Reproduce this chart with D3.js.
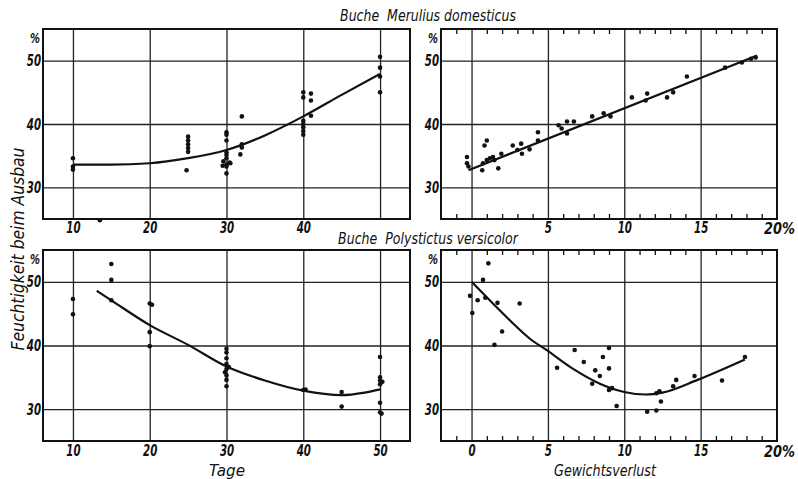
<!DOCTYPE html>
<html>
<head>
<meta charset="utf-8">
<script src="https://cdn.jsdelivr.net/npm/d3@7"></script>
<style>
  body { margin: 0; background: #fff; }
  text { font-family: "DejaVu Sans", sans-serif; font-style: italic; fill: #111; }
</style>
</head>
<body>
<div id="chart"></div>
<script>
// Chart size
const width = 798;
const height = 479;
const fontFam = "DejaVu Sans, sans-serif";

// --- data: Buche Merulius domesticus, Feuchtigkeit vs Tage ---
const merTagePoints = [
  [10, 34.6], [10, 33.3], [10, 32.8], [13.5, 24.8],
  [25, 38.0], [25, 37.4], [25, 36.8], [25, 36.2], [25, 35.6], [24.8, 32.7],
  [30, 38.7], [30, 38.3], [30, 37.4], [30, 35.5], [30, 35.1], [30, 34.6],
  [29.6, 34.1], [30.4, 33.9], [30, 33.6], [29.5, 33.4], [30.5, 33.8], [30, 33.3], [30, 32.2],
  [32, 41.2], [32, 36.8], [32, 36.3], [31.8, 35.2],
  [40, 45.0], [40, 44.2], [40, 40.5], [40, 40.0], [40, 39.5], [40, 38.9], [40, 38.3],
  [41, 44.8], [41, 43.7], [41, 41.3],
  [50, 50.6], [50, 48.9], [50, 47.5], [50, 45.0]
];
const merTageCurve = [
  [10, 33.6], [15, 33.6], [20, 33.8], [25, 34.6], [30, 35.9],
  [35, 38.2], [40, 41.2], [45, 44.6], [50, 47.9]
];

// --- data: Buche Merulius domesticus, Feuchtigkeit vs Gewichtsverlust ---
const merVerlustPoints = [
  [-0.3, 34.8], [-0.3, 33.8], [-0.2, 33.3], [1.0, 37.4], [0.85, 36.6],
  [0.75, 33.8], [0.7, 32.7], [1.0, 34.3], [1.2, 34.6], [1.4, 34.8],
  [1.5, 34.3], [1.75, 33.0], [1.95, 35.3], [2.7, 36.6], [3.0, 35.9],
  [3.25, 36.9], [3.3, 35.3], [3.8, 36.0], [4.35, 38.7], [4.35, 37.4],
  [5.7, 39.8], [5.9, 39.3], [6.25, 38.5], [6.25, 40.4], [6.7, 40.4],
  [7.9, 41.2], [8.65, 41.7], [9.1, 41.2], [10.5, 44.2], [11.4, 43.7],
  [11.5, 44.8], [12.8, 44.2], [13.2, 45.0], [14.1, 47.5], [16.6, 48.9],
  [17.7, 49.7], [18.3, 50.3], [18.6, 50.5]
];
const merVerlustCurve = [[-0.2, 32.7], [18.7, 50.8]];

// --- data: Buche Polystictus versicolor, Feuchtigkeit vs Tage ---
const polTagePoints = [
  [10, 47.3], [10, 44.9],
  [15, 52.8], [15, 50.3], [15, 47.1],
  [20, 46.6], [20.3, 46.4], [20, 42.1], [20, 39.9],
  [30, 39.5], [30, 38.9], [30, 38.0], [30, 37.1], [30.3, 36.6], [30, 36.3],
  [29.8, 35.8], [30, 35.3], [30, 34.6], [30, 33.6],
  [40, 33.0], [40.3, 33.1],
  [45, 32.7], [45, 30.4],
  [50, 38.2], [50, 35.0], [50, 34.5], [50.3, 34.3], [50, 33.9], [50, 31.0], [50, 29.5], [50.2, 29.3]
];
const polTageCurve = [
  [13.1, 48.6], [15, 47.1], [20, 43.2], [25, 40.1], [30, 36.7],
  [35, 34.5], [40, 32.9], [45, 32.2], [48, 32.6], [50, 33.1]
];

// --- data: Buche Polystictus versicolor, Feuchtigkeit vs Gewichtsverlust ---
const polVerlustPoints = [
  [-0.1, 47.8], [0.05, 45.1], [0.4, 47.1], [0.75, 50.3], [1.1, 52.9],
  [0.9, 47.5], [1.7, 46.7], [1.5, 40.1], [2.0, 42.2], [3.15, 46.6],
  [5.6, 36.5], [6.75, 39.3], [7.35, 37.4], [7.9, 34.0], [8.1, 36.1],
  [8.4, 35.2], [8.6, 38.2], [9.0, 39.6], [9.0, 36.4], [9.0, 33.0],
  [9.2, 33.3], [9.5, 30.5], [11.5, 29.6], [12.1, 29.8], [12.1, 32.5],
  [12.3, 32.8], [12.4, 31.2], [13.2, 33.6], [13.4, 34.6], [14.6, 35.2],
  [16.4, 34.5], [17.9, 38.2]
];
const polVerlustCurve = [
  [0, 50.0], [1.4, 46.6], [2.7, 43.5], [3.8, 41.1], [4.9, 39.3],
  [6.6, 36.4], [8.4, 34.0], [10, 32.7], [11.4, 32.3], [12.5, 32.6],
  [14.8, 34.6], [17.9, 37.8]
];

// axis values
const yGrid = [30, 40, 50];
const tageGrid = [10, 20, 30, 40, 50];
const verlustGrid = [0, 5, 10, 15];
const verlustMinor = d3.range(-1, 20).filter(d => d % 5 !== 0);

const svg = d3.select("#chart").append("svg")
  .attr("width", width)
  .attr("height", height);

svg.append("rect").attr("width", width).attr("height", height).attr("fill", "white");

// panel boxes
const leftBox = { x0: 43, x1: 410 };
const rightBox = { x0: 441, x1: 777 };
const topBox = { y0: 29, y1: 219 };
const botBox = { y0: 250, y1: 441 };

// no condensed font installed, so squeeze glyphs horizontally with a transform
function squeeze(sel, factor) {
  sel.attr("transform", `scale(${factor},1)`);
}

// free text squeezed to a target width
function fitText(base, str, size, target, opts = {}) {
  const t = svg.append("text")
    .attr("text-anchor", opts.anchor || "middle")
    .attr("font-size", size)
    .attr("font-weight", opts.bold ? "bold" : null)
    .attr("xml:space", "preserve")
    .text(str);
  const f = target / t.node().getComputedTextLength();
  t.attr("transform", `${base} scale(${f},1)`);
  return t;
}

function styleLabels(sel) {
  sel.attr("font-size", 16).attr("font-weight", "bold")
    .attr("font-family", fontFam)
    .attr("font-style", "italic").attr("fill", "#111");
  squeeze(sel, 0.64);
}

function drawPanel(cfg) {
  const x = d3.scaleLinear().domain(cfg.xDomain).range([cfg.hb.x0, cfg.hb.x1]);
  const y = d3.scaleLinear().domain([25, 55]).range([cfg.vb.y1, cfg.vb.y0]);
  const w = cfg.hb.x1 - cfg.hb.x0;
  const h = cfg.vb.y1 - cfg.vb.y0;
  const g = svg.append("g");

  // horizontal grid + y labels
  const yAxis = g.append("g")
    .attr("transform", `translate(${cfg.hb.x0},0)`)
    .call(d3.axisLeft(y).tickValues(yGrid).tickSize(-w).tickPadding(3));
  yAxis.select(".domain").remove();
  yAxis.selectAll("line").attr("stroke", "#222").attr("stroke-width", 1.3);
  styleLabels(yAxis.selectAll("text"));

  // vertical grid + x labels
  const xAxis = g.append("g")
    .attr("transform", `translate(0,${cfg.vb.y1})`)
    .call(d3.axisBottom(x).tickValues(cfg.xGrid).tickSize(-h).tickPadding(cfg.pad)
      .tickFormat(d => cfg.xLabels.includes(d) ? d : ""));
  xAxis.select(".domain").remove();
  xAxis.selectAll("line").attr("stroke", "#222").attr("stroke-width", 1.3);
  styleLabels(xAxis.selectAll("text"));

  // minor ticks along top and bottom edges
  if (cfg.minor) {
    const tTop = g.append("g")
      .attr("transform", `translate(0,${cfg.vb.y0})`)
      .call(d3.axisBottom(x).tickValues(cfg.minor).tickSize(5).tickFormat(""));
    const tBot = g.append("g")
      .attr("transform", `translate(0,${cfg.vb.y1})`)
      .call(d3.axisTop(x).tickValues(cfg.minor).tickSize(5).tickFormat(""));
    [tTop, tBot].forEach(t => {
      t.select(".domain").remove();
      t.selectAll("line").attr("stroke", "#111").attr("stroke-width", 1.3);
    });
  }

  // frame
  g.append("rect")
    .attr("x", cfg.hb.x0).attr("y", cfg.vb.y0)
    .attr("width", w).attr("height", h)
    .attr("fill", "none").attr("stroke", "#111").attr("stroke-width", 2);

  // fitted curve
  const line = d3.line()
    .x(d => x(d[0])).y(d => y(d[1]))
    .curve(d3.curveMonotoneX);
  g.append("path")
    .datum(cfg.curve)
    .attr("d", line)
    .attr("fill", "none")
    .attr("stroke", "#111")
    .attr("stroke-width", 2.2);

  // points
  g.selectAll("circle.pt")
    .data(cfg.points)
    .join("circle")
    .attr("class", "pt")
    .attr("cx", d => x(d[0]))
    .attr("cy", d => y(d[1]))
    .attr("r", 2.3)
    .attr("fill", "#111");

  // "%" unit above the y labels
  fitText(`translate(${cfg.hb.x0 - 3},${cfg.vb.y0 + 14})`, "%", 14, 10,
    { anchor: "end", bold: true });

  // "20%" at the right end of the Gewichtsverlust axes
  if (cfg.endLabel) {
    fitText(`translate(${cfg.hb.x1 - 13},${cfg.vb.y1 + cfg.pad + 12})`, cfg.endLabel, 16, 31,
      { anchor: "start", bold: true });
  }
}

drawPanel({ hb: leftBox, vb: topBox, xDomain: [6.1, 53.9], xGrid: tageGrid, pad: 3,
  xLabels: [10, 20, 30, 40], points: merTagePoints, curve: merTageCurve });
drawPanel({ hb: rightBox, vb: topBox, xDomain: [-2, 20], xGrid: verlustGrid, pad: 3,
  xLabels: [5, 10, 15], endLabel: "20%", minor: verlustMinor,
  points: merVerlustPoints, curve: merVerlustCurve });
drawPanel({ hb: leftBox, vb: botBox, xDomain: [6.1, 53.9], xGrid: tageGrid, pad: 4,
  xLabels: [10, 20, 30, 40, 50], points: polTagePoints, curve: polTageCurve });
drawPanel({ hb: rightBox, vb: botBox, xDomain: [-2, 20], xGrid: verlustGrid, pad: 4,
  xLabels: [0, 5, 10, 15], endLabel: "20%", minor: verlustMinor,
  points: polVerlustPoints, curve: polVerlustCurve });

// titles, squeezed to the widths seen in the reference
fitText("translate(428,21)", "Buche  Merulius domesticus", 16, 176);
fitText("translate(428,244)", "Buche  Polystictus versicolor", 16, 180);

// axis titles
fitText("translate(24,249) rotate(-90)", "Feuchtigkeit beim Ausbau", 17, 203);
fitText("translate(227,476)", "Tage", 16, 36);
fitText("translate(605,476)", "Gewichtsverlust", 16, 102);
</script>
</body>
</html>
